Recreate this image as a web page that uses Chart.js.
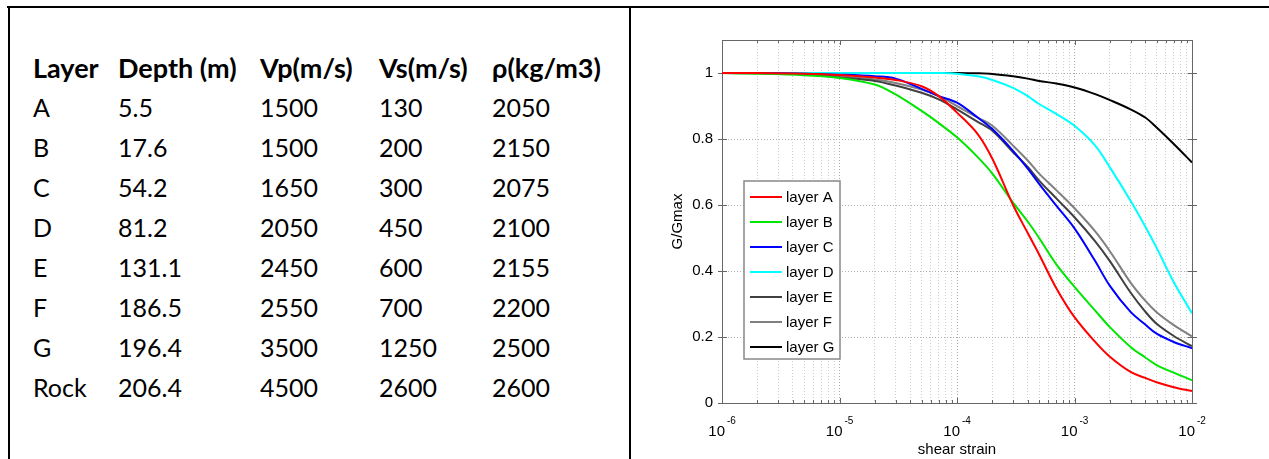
<!DOCTYPE html>
<html>
<head>
<meta charset="utf-8">
<script src="https://cdn.jsdelivr.net/npm/chart.js@4.4.1/dist/chart.umd.min.js"></script>
<style>
    html, body { margin: 0; padding: 0; background: #fff; }
    body { width: 1269px; height: 459px; position: relative; overflow: hidden; }
    #topLine { position: absolute; left: 7px; top: 6px; width: 1262px; height: 2px; background: #000; }
    #leftLine { position: absolute; left: 8px; top: 6px; width: 2px; height: 453px; background: #000; }
    #midLine { position: absolute; left: 629px; top: 6px; width: 2px; height: 453px; background: #000; }
    #layerTable { position: absolute; left: 33px; top: 49px; border-collapse: collapse; table-layout: fixed;
        font-family: Lato, "Open Sans", sans-serif; font-size: 25px; color: #000; }
    #layerTable td, #layerTable th { padding: 0; text-align: left; white-space: nowrap; height: 40px; line-height: 40px; }
    #layerTable th { font-weight: bold; font-size: 27px; height: 38px; line-height: 38px; }
    #chartBox { position: absolute; left: 640px; top: 0; width: 629px; height: 459px; }
</style>
</head>
<body>
<div id="topLine"></div>
<div id="leftLine"></div>
<div id="midLine"></div>
<table id="layerTable">
    <colgroup><col style="width:85px"><col style="width:142px"><col style="width:119px"><col style="width:113px"><col style="width:130px"></colgroup>
    <thead><tr id="headRow"></tr></thead>
    <tbody id="tableBody"></tbody>
</table>
<div id="chartBox"><canvas id="ggChart"></canvas></div>

<script>
// Table data
const tableHeaders = ['Layer', 'Depth (m)', 'Vp(m/s)', 'Vs(m/s)', 'ρ(kg/m3)'];
const layerNames = ['A', 'B', 'C', 'D', 'E', 'F', 'G', 'Rock'];
const depths = ['5.5', '17.6', '54.2', '81.2', '131.1', '186.5', '196.4', '206.4'];
const vp = [1500, 1500, 1650, 2050, 2450, 2550, 3500, 4500];
const vs = [130, 200, 300, 450, 600, 700, 1250, 2600];
const rho = [2050, 2150, 2075, 2100, 2155, 2200, 2500, 2600];

// Curve data: shear strain and G/Gmax for each layer
const strain = [1e-6, 2e-6, 5e-6, 1e-5, 2e-5, 3e-5, 5e-5, 7e-5, 1e-4, 1.5e-4, 2e-4, 3e-4, 4e-4, 5e-4, 7e-4, 1e-3, 1.5e-3, 2e-3, 3e-3, 4e-3, 5e-3, 7e-3, 1e-2];
const layerA = [1.0, 1.0, 0.998, 0.994, 0.986, 0.979, 0.96, 0.93, 0.88, 0.815, 0.74, 0.60, 0.515, 0.45, 0.348, 0.26, 0.185, 0.14, 0.094, 0.076, 0.063, 0.048, 0.036];
const layerB = [1.0, 0.998, 0.993, 0.985, 0.965, 0.935, 0.885, 0.848, 0.805, 0.745, 0.695, 0.607, 0.55, 0.50, 0.42, 0.352, 0.28, 0.23, 0.17, 0.138, 0.115, 0.092, 0.069];
const layerC = [1.0, 1.0, 0.998, 0.995, 0.99, 0.983, 0.952, 0.93, 0.91, 0.865, 0.83, 0.764, 0.71, 0.664, 0.598, 0.529, 0.43, 0.355, 0.276, 0.238, 0.21, 0.185, 0.166];
const layerD = [1.0, 1.0, 1.0, 1.0, 1.0, 1.0, 1.0, 1.0, 0.998, 0.99, 0.979, 0.955, 0.93, 0.906, 0.876, 0.84, 0.78, 0.714, 0.613, 0.535, 0.47, 0.366, 0.272];
const layerE = [1.0, 0.999, 0.996, 0.986, 0.976, 0.962, 0.94, 0.92, 0.89, 0.852, 0.825, 0.76, 0.715, 0.674, 0.62, 0.563, 0.49, 0.43, 0.335, 0.277, 0.24, 0.203, 0.172];
const layerF = [1.0, 1.0, 0.997, 0.99, 0.98, 0.97, 0.95, 0.93, 0.90, 0.865, 0.84, 0.78, 0.735, 0.695, 0.645, 0.59, 0.52, 0.46, 0.365, 0.31, 0.275, 0.236, 0.202];
const layerG = [1.0, 1.0, 1.0, 1.0, 1.0, 1.0, 1.0, 1.0, 1.0, 0.999, 0.997, 0.99, 0.983, 0.976, 0.968, 0.956, 0.936, 0.918, 0.89, 0.865, 0.835, 0.785, 0.729];

const seriesLabels = ['layer A', 'layer B', 'layer C', 'layer D', 'layer E', 'layer F', 'layer G'];
const seriesColors = ['#ff0000', '#00e600', '#0000ff', '#00ffff', '#404040', '#808080', '#000000'];

// Axis ticks
const xDecades = [1e-6, 1e-5, 1e-4, 1e-3, 1e-2];
const xExponents = ['-6', '-5', '-4', '-3', '-2'];
const yTicks = [0, 0.2, 0.4, 0.6, 0.8, 1];
const yTickLabels = ['0', '0.2', '0.4', '0.6', '0.8', '1'];

const axisFont = '"Liberation Sans", Arial, sans-serif';

// Function to fill the table
function buildTable() {
    let head = document.getElementById('headRow');
    tableHeaders.forEach((h) => {
        let th = document.createElement('th');
        th.textContent = h;
        head.appendChild(th);
    });
    let body = document.getElementById('tableBody');
    for (let i = 0; i < layerNames.length; i++) {
        let tr = document.createElement('tr');
        [layerNames[i], depths[i], vp[i], vs[i], rho[i]].forEach((v) => {
            let td = document.createElement('td');
            td.textContent = v;
            tr.appendChild(td);
        });
        body.appendChild(tr);
    }
}

// x ticks: decades plus minor 2..9 positions
function buildXTicks() {
    let ticks = [];
    for (let d = 0; d < xDecades.length; d++) {
        ticks.push(xDecades[d]);
        if (d < xDecades.length - 1) {
            for (let m = 2; m <= 9; m++) ticks.push(Number((m * xDecades[d]).toPrecision(3)));
        }
    }
    return ticks;
}
const xTicks = buildXTicks();

function isDecade(v) {
    return xDecades.some((d) => Math.abs(v / d - 1) < 1e-6);
}

// Plugin for the box, tick marks, x tick labels with exponents and the legend
const matlabAxes = {
    id: 'matlabAxes',
    beforeDatasetsDraw(chart) {
        const { ctx, chartArea: a, scales } = chart;
        ctx.save();
        ctx.strokeStyle = '#666';
        ctx.lineWidth = 1;
        ctx.beginPath();
        // box
        ctx.rect(a.left + 0.5, a.top + 0.5, a.right - a.left, a.bottom - a.top);
        // y tick marks
        yTicks.forEach((v) => {
            let y = Math.round(scales.y.getPixelForValue(v)) + 0.5;
            ctx.moveTo(a.left - 4, y); ctx.lineTo(a.left + 5, y);
            ctx.moveTo(a.right - 4, y); ctx.lineTo(a.right + 5, y);
        });
        // x tick marks
        xTicks.forEach((v) => {
            let x = Math.round(scales.x.getPixelForValue(v)) + 0.5;
            let len = isDecade(v) ? 5 : 3;
            ctx.moveTo(x, a.bottom + 1); ctx.lineTo(x, a.bottom - len);
            ctx.moveTo(x, a.top); ctx.lineTo(x, a.top + len);
        });
        ctx.stroke();
        ctx.restore();
    },
    afterDraw(chart) {
        const { ctx, chartArea: a, scales } = chart;
        ctx.save();
        ctx.fillStyle = '#000';
        ctx.textBaseline = 'alphabetic';
        // x tick labels as 10 with a raised exponent
        xDecades.forEach((v, i) => {
            let x = scales.x.getPixelForValue(v);
            ctx.font = '15px ' + axisFont;
            ctx.textAlign = 'right';
            ctx.fillText('10', x + 3, a.bottom + 33);
            ctx.font = '10px ' + axisFont;
            ctx.textAlign = 'left';
            ctx.fillText(xExponents[i], x + 5, a.bottom + 21);
        });

        // legend box
        const lx = 104, ly = 181, lw = 96, lh = 178;
        ctx.fillStyle = '#fff';
        ctx.fillRect(lx, ly, lw, lh);
        ctx.strokeStyle = '#888';
        ctx.lineWidth = 1.5;
        ctx.strokeRect(lx, ly, lw, lh);
        ctx.font = '15px ' + axisFont;
        ctx.textAlign = 'left';
        ctx.textBaseline = 'middle';
        chart.data.datasets.forEach((ds, i) => {
            let y = ly + 16 + i * 25;
            ctx.strokeStyle = ds.borderColor;
            ctx.lineWidth = 2;
            ctx.beginPath();
            ctx.moveTo(lx + 6, y);
            ctx.lineTo(lx + 38, y);
            ctx.stroke();
            ctx.fillStyle = '#000';
            ctx.fillText(ds.label, lx + 42, y + 1);
        });
        ctx.restore();
    }
};

// Function to Initialize the Chart
function initChart() {
    const series = [layerA, layerB, layerC, layerD, layerE, layerF, layerG];
    let ctx = document.getElementById('ggChart').getContext('2d');
    new Chart(ctx, {
        type: 'line',
        data: {
            datasets: series.map((vals, i) => ({
                label: seriesLabels[i],
                data: strain.map((s, j) => ({ x: s, y: vals[j] })),
                borderColor: seriesColors[i],
                borderWidth: 2,
                pointRadius: 0,
                fill: false,
                tension: 0.35
            }))
        },
        options: {
            responsive: true,
            maintainAspectRatio: false,
            animation: false,
            layout: { padding: { left: 0, right: 77, top: 40, bottom: 0 } },
            plugins: {
                legend: { display: false },
                tooltip: { enabled: false }
            },
            scales: {
                x: {
                    type: 'logarithmic',
                    min: 1e-6,
                    max: 1e-2,
                    afterBuildTicks: (scale) => { scale.ticks = xTicks.map((v) => ({ value: v })); },
                    afterFit: (scale) => { scale.height = 56; },
                    ticks: { display: false },
                    grid: {
                        drawTicks: false,
                        color: (c) => (c.tick && isDecade(c.tick.value)) ? '#a8a8a8' : '#cfcfcf',
                        lineWidth: 1
                    },
                    border: { display: false, dash: [1, 2] },
                    title: {
                        display: true,
                        text: 'shear strain',
                        color: '#000',
                        font: { family: axisFont, size: 15 },
                        padding: { top: 0, bottom: 0 }
                    }
                },
                y: {
                    type: 'linear',
                    min: 0,
                    max: 1.1,
                    afterBuildTicks: (scale) => { scale.ticks = yTicks.map((v) => ({ value: v })); },
                    afterFit: (scale) => { scale.width = 82; },
                    ticks: {
                        padding: 9,
                        color: '#000',
                        font: { family: axisFont, size: 15 },
                        callback: (value, index) => yTickLabels[index]
                    },
                    grid: { drawTicks: false, color: '#b0b0b0', lineWidth: 1 },
                    border: { display: false, dash: [1, 2] },
                    title: {
                        display: true,
                        text: 'G/Gmax',
                        color: '#000',
                        font: { family: axisFont, size: 15 },
                        padding: { top: 29, bottom: 0 }
                    }
                }
            }
        },
        plugins: [matlabAxes]
    });
}

buildTable();
window.onload = initChart;
</script>
</body>
</html>
